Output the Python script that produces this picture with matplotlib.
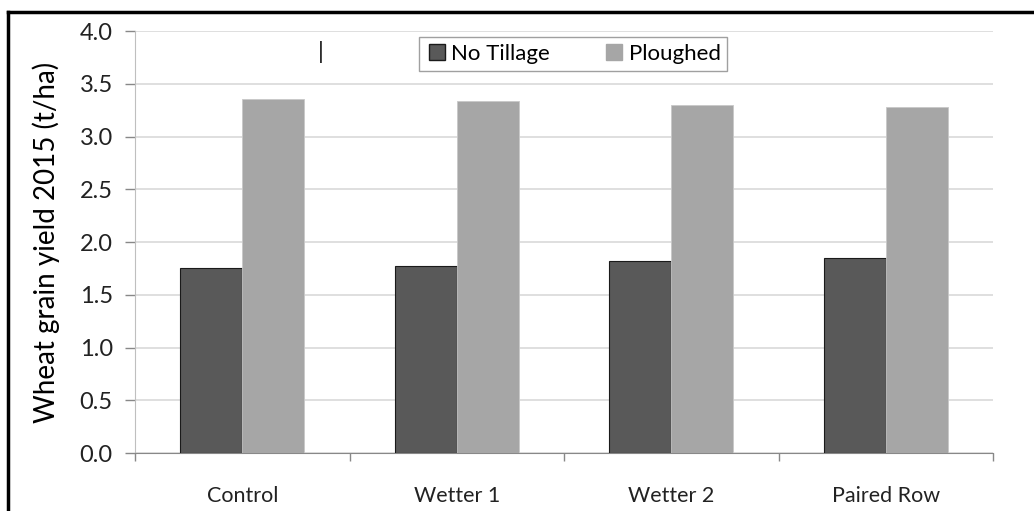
import matplotlib.pyplot as plt
import numpy as np
from matplotlib.lines import Line2D

categories = ["Control", "Wetter 1", "Wetter 2", "Paired Row"]
no_tillage = [1.75, 1.77, 1.82, 1.85]
ploughed = [3.36, 3.34, 3.30, 3.28]
series_names = ["No Tillage", "Ploughed"]
y_ticks = [0.0, 0.5, 1.0, 1.5, 2.0, 2.5, 3.0, 3.5, 4.0]

plt.rcParams["font.family"] = ["Lato", "DejaVu Sans"]

fig = plt.figure(figsize=(10.34, 5.11), dpi=100)
W, H = 1034, 511
ax = fig.add_axes([135 / W, 1 - 453 / H, (993 - 135) / W, (453 - 31) / H])

x = np.arange(len(categories))
bw = 0.29
ax.bar(x - bw / 2, no_tillage, bw, color="#595959", edgecolor="#1a1a1a",
       linewidth=0.8, zorder=3, label=series_names[0])
ax.bar(x + bw / 2, ploughed, bw, color="#a6a6a6", edgecolor="#c8c8c8",
       linewidth=0.6, zorder=3, label=series_names[1])

ax.set_xlim(-0.5, len(categories) - 0.5)
ax.set_ylim(0, 4.0)
ax.set_yticks(y_ticks)
ax.set_yticklabels([f"{v:.1f}" for v in y_ticks], fontsize=17, color="#222222")
ax.grid(axis="y", color="#d9d9d9", linewidth=1.2, zorder=0)

ax.set_xticks(x)
ax.set_xticklabels(categories, fontsize=15.5, color="#222222")
ax.tick_params(axis="x", length=0, pad=24)
ax.set_xticks(np.arange(-0.5, len(categories)), minor=True)
ax.tick_params(axis="x", which="minor", length=6, color="#888888", width=1)
ax.tick_params(axis="y", length=7, color="#888888", width=1, pad=9)

for side in ["top", "right"]:
    ax.spines[side].set_visible(False)
ax.spines["left"].set_color("#bfbfbf")
ax.spines["bottom"].set_color("#888888")

ax.set_ylabel("Wheat grain yield 2015 (t/ha)", fontsize=20, labelpad=14)

handles = [
    Line2D([], [], marker="s", linestyle="none", markersize=11,
           markerfacecolor="#595959", markeredgecolor="#1a1a1a"),
    Line2D([], [], marker="s", linestyle="none", markersize=11,
           markerfacecolor="#a6a6a6", markeredgecolor="#a6a6a6"),
]
leg = fig.legend(handles, series_names, loc="center",
                 bbox_to_anchor=(573 / W, 1 - 54 / H), ncol=2, fontsize=16,
                 frameon=True, fancybox=False, edgecolor="#888888",
                 handletextpad=0.15, columnspacing=2.4, borderpad=0.3,
                 handlelength=1.0, borderaxespad=0)
leg.get_frame().set_linewidth(1.0)

# stray cursor mark in the original
fig.text(321 / W, 1 - 52 / H, "|", fontsize=17, ha="center", va="center",
         color="#111111")

# outer black frame (top and left visible)
fig.add_artist(Line2D([8 / W, 1.0], [1 - 12 / H, 1 - 12 / H], color="black",
                      linewidth=2.5, transform=fig.transFigure))
fig.add_artist(Line2D([8 / W, 8 / W], [0, 1 - 12 / H], color="black",
                      linewidth=2.5, transform=fig.transFigure))

fig.savefig("out.png", dpi=100)
